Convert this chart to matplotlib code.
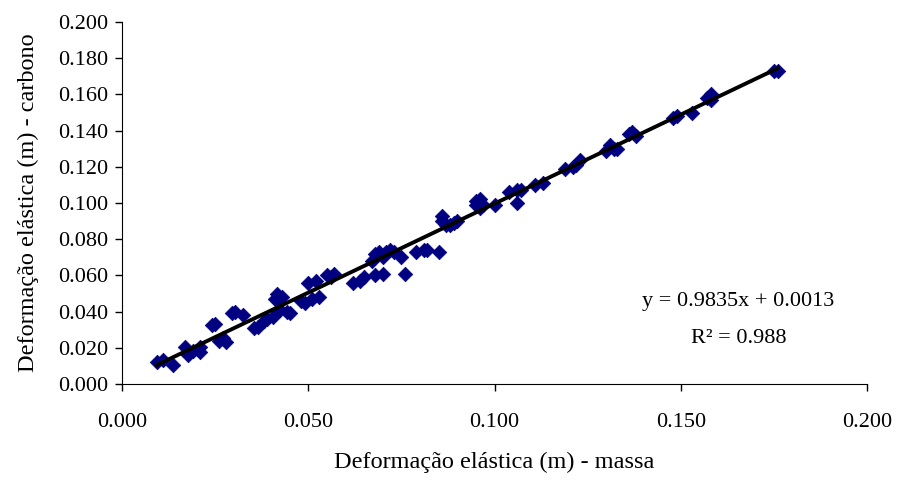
import matplotlib
matplotlib.use("Agg")
import matplotlib.pyplot as plt
import numpy as np
from matplotlib.ticker import FormatStrFormatter

x_massa = [0.0093, 0.011, 0.0138, 0.0169, 0.0178, 0.019, 0.0209, 0.0209, 0.0241, 0.025,
           0.026, 0.0272, 0.028, 0.0295, 0.0303, 0.0326, 0.0355, 0.0366, 0.038, 0.039,
           0.0406, 0.0415, 0.0412, 0.042, 0.0425, 0.043, 0.0442, 0.045, 0.048, 0.049,
           0.050, 0.051, 0.052, 0.053, 0.055, 0.056, 0.057, 0.062, 0.064, 0.065,
           0.067, 0.068, 0.068, 0.069, 0.070, 0.070, 0.071, 0.072, 0.073, 0.075,
           0.076, 0.079, 0.081, 0.082, 0.085, 0.086, 0.086, 0.087, 0.088, 0.089,
           0.090, 0.095, 0.095, 0.096, 0.096, 0.097, 0.100, 0.104, 0.106, 0.106,
           0.107, 0.111, 0.113, 0.119, 0.121, 0.122, 0.123, 0.130, 0.131, 0.132,
           0.133, 0.136, 0.137, 0.138, 0.148, 0.149, 0.153, 0.157, 0.158, 0.158,
           0.175, 0.176]
y_carbono = [0.0120, 0.013, 0.0105, 0.0206, 0.016, 0.018, 0.0206, 0.0179, 0.0326, 0.0334,
             0.024, 0.0252, 0.023, 0.039, 0.040, 0.038, 0.031, 0.0317, 0.035, 0.036,
             0.037, 0.050, 0.047, 0.046, 0.041, 0.048, 0.040, 0.039, 0.046, 0.045,
             0.056, 0.047, 0.057, 0.048, 0.060, 0.059, 0.061, 0.056, 0.057, 0.059,
             0.068, 0.072, 0.060, 0.073, 0.061, 0.070, 0.073, 0.074, 0.073, 0.070,
             0.061, 0.073, 0.074, 0.074, 0.073, 0.093, 0.090, 0.088, 0.088, 0.089,
             0.090, 0.101, 0.099, 0.097, 0.102, 0.099, 0.099, 0.106, 0.100, 0.107,
             0.107, 0.110, 0.111, 0.119, 0.120, 0.121, 0.124, 0.129, 0.132, 0.130,
             0.130, 0.138, 0.139, 0.137, 0.147, 0.148, 0.150, 0.158, 0.160, 0.157,
             0.173, 0.173]

slope = 0.9835
intercept = 0.0013
x_ticks = [0.0, 0.05, 0.10, 0.15, 0.20]
y_ticks = [0.0, 0.02, 0.04, 0.06, 0.08, 0.10, 0.12, 0.14, 0.16, 0.18, 0.20]

plt.rcParams['font.family'] = ['Liberation Serif', 'DejaVu Serif']
fig = plt.figure(figsize=(8.97, 4.83), dpi=100)
ax = fig.add_axes([122/897, 1-384/483, (867-122)/897, (384-22)/483])

ax.scatter(x_massa, y_carbono, marker='D', s=55, color='#000080', edgecolors='#000080', linewidths=0.5, zorder=2)
xl = np.array([min(x_massa), max(x_massa)])
ax.plot(xl, slope*xl + intercept, color='black', lw=2.8, zorder=3)

ax.set_xlim(0, 0.2)
ax.set_ylim(0, 0.2)
ax.set_xticks(x_ticks)
ax.set_yticks(y_ticks)
ax.xaxis.set_major_formatter(FormatStrFormatter('%.3f'))
ax.yaxis.set_major_formatter(FormatStrFormatter('%.3f'))
ax.spines['top'].set_visible(False)
ax.spines['right'].set_visible(False)
ax.tick_params(direction='out', length=5, width=1, labelsize=16)
ax.tick_params(axis='x', pad=16)
ax.tick_params(axis='y', pad=5)
ax.set_xlabel('Deformação elástica (m) - massa', fontsize=17.5, labelpad=14)
ax.set_ylabel('Deformação elástica (m) - carbono', fontsize=17.5, labelpad=14)

ax.text(0.1653, 0.0455, 'y = 0.9835x + 0.0013', ha='center', va='center', fontsize=16)
ax.text(0.1655, 0.025, 'R² = 0.988', ha='center', va='center', fontsize=16)

fig.savefig('out.png', dpi=100)
